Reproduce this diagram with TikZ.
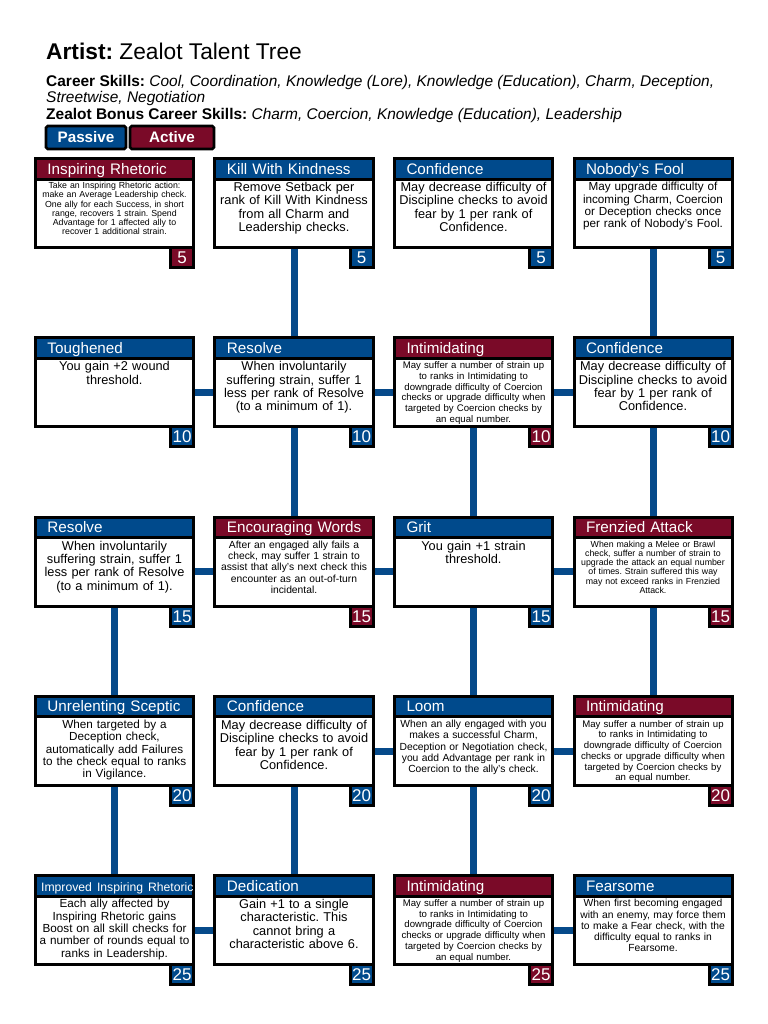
\documentclass[tikz,border=0pt]{standalone}
\usepackage{fontspec}
\setmainfont{Liberation Sans}
\usetikzlibrary{positioning, backgrounds}
\definecolor{PassiveBlue}{HTML}{004A8C}
\definecolor{ActiveRed}{HTML}{7A0A28}
\definecolor{LinkBlue}{HTML}{064A8A}
\frenchspacing
\tikzset{
  cardbody/.style={draw=black, line width=0.09cm, fill=white, minimum width=4.74cm, minimum height=2.055cm, inner sep=0pt, outer sep=0pt},
  cardtitle/.style={draw=black, line width=0.09cm, text=white, minimum height=0.615cm, inner xsep=0.16cm, inner ysep=0pt, outer sep=0pt, text width=4.42cm, align=left, text height=9.3pt, text depth=0pt, font=\fontsize{13}{14}\selectfont},
  cardcost/.style={draw=black, line width=0.09cm, text=white, minimum width=0.69cm, minimum height=0.6cm, inner sep=0pt, outer sep=0pt, text height=10.3pt, text depth=0pt, font=\fontsize{14.5}{15}\selectfont},
  cardtext/.style={text width=4.62cm, align=center, inner sep=0pt, outer sep=0pt},
  bigtext/.style={font=\fontsize{10.9}{11.4}\selectfont},
  midtext/.style={font=\fontsize{10}{10.5}\selectfont},
  smalltext/.style={font=\fontsize{8.8}{9.6}\selectfont},
  tinytext/.style={font=\fontsize{8.2}{9.2}\selectfont},
  microtext/.style={font=\fontsize{7.5}{7.9}\selectfont},
  legendbox/.style={draw=black, line width=0.08cm, rounded corners=1.5pt, text=white, font=\fontsize{13}{14}\selectfont\bfseries, minimum height=0.69cm, inner sep=0pt, outer sep=0pt},
  headline/.style={anchor=base west, inner sep=0pt, font=\fontsize{13.2}{14}\selectfont},
  link/.style={draw=LinkBlue, line width=0.21cm}
}
% #1 name, #2 position, #3 colour, #4 title, #5 text style, #6 text, #7 cost
\newcommand{\talent}[7]{%
  \node[cardbody] (#1) at #2 {};
  \node[cardtitle, fill=#3, anchor=south] (#1t) at (#1.north) {\hspace*{0.2cm}\mbox{#4}};
  \node[cardcost, fill=#3, anchor=north east] (#1c) at (#1.south east) {#7};
  \node[cardtext, #5, anchor=north, yshift=-0.1cm] (#1x) at (#1.north) {#6};
}
\newcommand{\confidencetext}{May decrease difficulty of\\Discipline checks to avoid\\fear by 1 per rank of\\Confidence.}
\newcommand{\resolvetext}{When involuntarily\\suffering strain, suffer 1\\less per rank of Resolve\\(to a minimum of 1).}
\newcommand{\intimidatingtext}{May suffer a number of strain up\\to ranks in Intimidating to\\downgrade difficulty of Coercion\\checks or upgrade difficulty when\\targeted by Coercion checks by\\an equal number.}

\begin{document}
\begin{tikzpicture}[x=0.03cm, y=-0.03cm]
\useasboundingbox (0,0) rectangle (768,1024);

% heading
\node[anchor=base west, inner sep=0pt, font=\fontsize{19.4}{20}\selectfont] (heading) at (46,59.3) {\textbf{Artist:} Zealot Talent Tree};
\node[headline] (skills) at (46,86) {\textbf{Career Skills:} \textit{Cool, Coordination, Knowledge (Lore), Knowledge (Education), Charm, Deception,}};
\node[headline] (skillsmore) at (46,102.7) {\textit{Streetwise, Negotiation}};
\node[headline] (bonus) at (46,119.3) {\textbf{Zealot Bonus Career Skills:} \textit{Charm, Coercion, Knowledge (Education), Leadership}};
\node[legendbox, fill=PassiveBlue, minimum width=2.4cm] (passive) at (86,137.5) {Passive};
\node[legendbox, fill=ActiveRed, minimum width=2.52cm] (activekey) at (172,137.5) {Active};

% row 1
\talent{r1c1}{(114.5,213.25)}{ActiveRed}{Inspiring Rhetoric}{microtext}{Take an Inspiring Rhetoric action:\\make an Average Leadership check.\\One ally for each Success, in short\\range, recovers 1 strain. Spend\\Advantage for 1 affected ally to\\recover 1 additional strain.}{5}
\talent{r1c2}{(294,213.25)}{PassiveBlue}{Kill With Kindness}{bigtext}{Remove Setback per\\rank of Kill With Kindness\\from all Charm and\\Leadership checks.}{5}
\talent{r1c3}{(473.5,213.25)}{PassiveBlue}{Confidence}{bigtext}{\confidencetext}{5}
\talent{r1c4}{(653,213.25)}{PassiveBlue}{Nobody's Fool}{midtext}{May upgrade difficulty of\\incoming Charm, Coercion\\or Deception checks once\\per rank of Nobody's Fool.}{5}

% row 2
\talent{r2c1}{(114.5,392.5)}{PassiveBlue}{Toughened}{bigtext}{You gain +2 wound\\threshold.}{10}
\talent{r2c2}{(294,392.5)}{PassiveBlue}{Resolve}{bigtext}{\resolvetext}{10}
\talent{r2c3}{(473.5,392.5)}{ActiveRed}{Intimidating}{tinytext}{\intimidatingtext}{10}
\talent{r2c4}{(653,392.5)}{PassiveBlue}{Confidence}{bigtext}{\confidencetext}{10}

% row 3
\talent{r3c1}{(114.5,571.75)}{PassiveBlue}{Resolve}{bigtext}{\resolvetext}{15}
\talent{r3c2}{(294,571.75)}{ActiveRed}{Encouraging Words}{smalltext}{After an engaged ally fails a\\check, may suffer 1 strain to\\assist that ally's next check this\\encounter as an out-of-turn\\incidental.}{15}
\talent{r3c3}{(473.5,571.75)}{PassiveBlue}{Grit}{bigtext}{You gain +1 strain\\threshold.}{15}
\talent{r3c4}{(653,571.75)}{ActiveRed}{Frenzied Attack}{microtext}{When making a Melee or Brawl\\check, suffer a number of strain to\\upgrade the attack an equal number\\of times. Strain suffered this way\\may not exceed ranks in Frenzied\\Attack.}{15}

% row 4
\talent{r4c1}{(114.5,751)}{PassiveBlue}{Unrelenting Sceptic}{midtext}{When targeted by a\\Deception check,\\automatically add Failures\\to the check equal to ranks\\in Vigilance.}{20}
\talent{r4c2}{(294,751)}{PassiveBlue}{Confidence}{bigtext}{\confidencetext}{20}
\talent{r4c3}{(473.5,751)}{PassiveBlue}{Loom}{smalltext}{When an ally engaged with you\\makes a successful Charm,\\Deception or Negotiation check,\\you add Advantage per rank in\\Coercion to the ally's check.}{20}
\talent{r4c4}{(653,751)}{ActiveRed}{Intimidating}{tinytext}{\intimidatingtext}{20}

% row 5
\talent{r5c1}{(114.5,930.25)}{PassiveBlue}{\fontsize{10.4}{11}\selectfont\hspace*{-0.19cm}Improved Inspiring Rhetoric}{midtext}{Each ally affected by\\Inspiring Rhetoric gains\\Boost on all skill checks for\\a number of rounds equal to\\ranks in Leadership.}{25}
\talent{r5c2}{(294,930.25)}{PassiveBlue}{Dedication}{bigtext}{Gain +1 to a single\\characteristic. This\\cannot bring a\\characteristic above 6.}{25}
\talent{r5c3}{(473.5,930.25)}{ActiveRed}{Intimidating}{tinytext}{\intimidatingtext}{25}
\talent{r5c4}{(653,930.25)}{PassiveBlue}{Fearsome}{smalltext}{When first becoming engaged\\with an enemy, may force them\\to make a Fear check, with the\\difficulty equal to ranks in\\Fearsome.}{25}

% connectors
\begin{scope}[on background layer]
  \fill[white] (0,0) rectangle (768,1024);
  \draw[link] (r1c2.south) -- (r2c2t.north);
  \draw[link] (r1c4.south) -- (r2c4t.north);
  \draw[link] (r2c2.south) -- (r3c2t.north);
  \draw[link] (r2c3.south) -- (r3c3t.north);
  \draw[link] (r2c4.south) -- (r3c4t.north);
  \draw[link] (r3c1.south) -- (r4c1t.north);
  \draw[link] (r3c3.south) -- (r4c3t.north);
  \draw[link] (r3c4.south) -- (r4c4t.north);
  \draw[link] (r4c1.south) -- (r5c1t.north);
  \draw[link] (r4c2.south) -- (r5c2t.north);
  \draw[link] (r4c3.south) -- (r5c3t.north);
  \draw[link] (r2c1.east) -- (r2c2.west);
  \draw[link] (r2c2.east) -- (r2c3.west);
  \draw[link] (r2c3.east) -- (r2c4.west);
  \draw[link] (r3c1.east) -- (r3c2.west);
  \draw[link] (r3c2.east) -- (r3c3.west);
  \draw[link] (r3c3.east) -- (r3c4.west);
  \draw[link] (r4c2.east) -- (r4c3.west);
  \draw[link] (r4c3.east) -- (r4c4.west);
  \draw[link] (r5c1.east) -- (r5c2.west);
  \draw[link] (r5c3.east) -- (r5c4.west);
\end{scope}
\end{tikzpicture}
\end{document}
